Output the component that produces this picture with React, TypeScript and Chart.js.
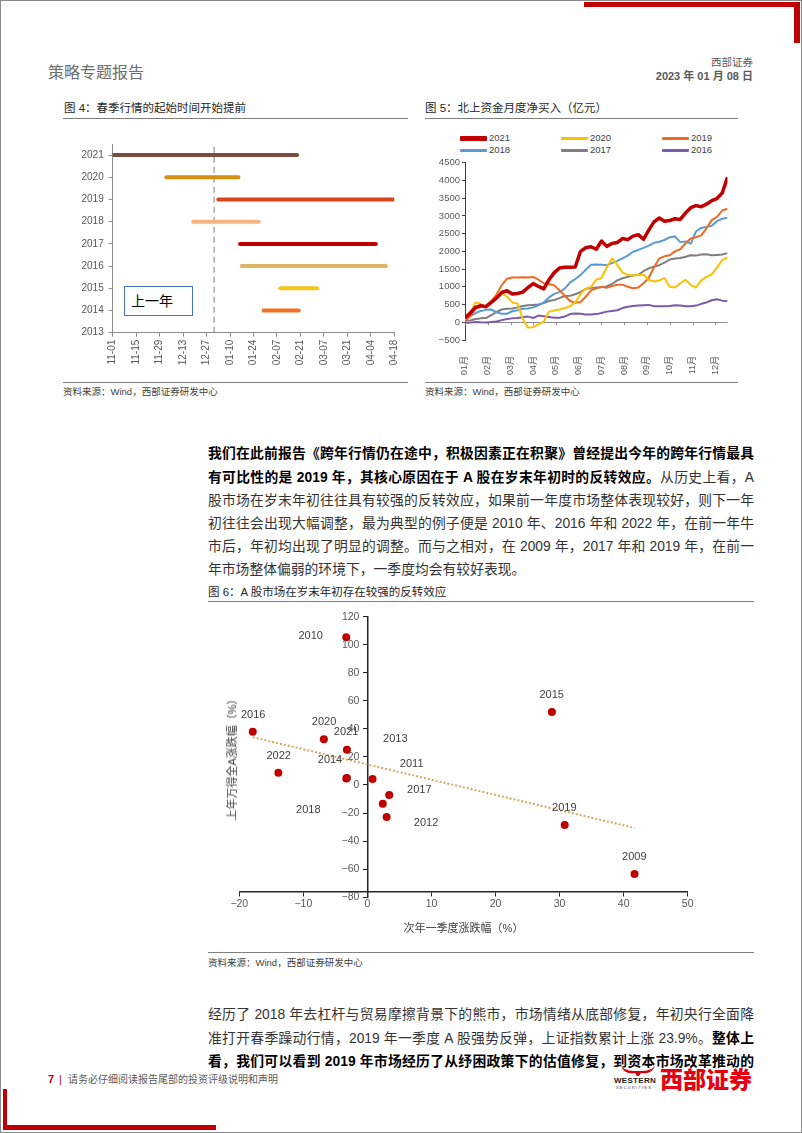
import React, { useEffect, useRef } from "react";
import { Chart, registerables } from "chart.js";

Chart.register(...registerables);

const LATIN = '"Liberation Sans", "Noto Sans CJK SC", sans-serif';
Chart.defaults.font.family = LATIN;

// ---------------- Figure 4: spring rally start/end (days since 11-01) ----------------
const rallyYears = [2021, 2020, 2019, 2018, 2017, 2016, 2015, 2014];
const rallyStartDay = [0, 32, 63, 48, 76, 77, 100, 90];
const rallyEndDay = [110, 75, 168, 87, 157, 163, 122, 111];
const dateTickLabels = ["11-01", "11-15", "11-29", "12-13", "12-27", "01-10", "01-24", "02-07", "02-21", "03-07", "03-21", "04-04", "04-18"];
const yearBoundaryDay = 60.5;

// ---------------- Figure 5: northbound cumulative net buy (weekly, 100m CNY) ----------------
const monthLabels = ["01月", "02月", "03月", "04月", "05月", "06月", "07月", "08月", "09月", "10月", "11月", "12月"];
const flowSeriesNames = ["2021", "2020", "2019", "2018", "2017", "2016"];
const flow2021 = [120, 260, 420, 470, 440, 560, 680, 840, 890, 800, 810, 850, 980, 1090, 1010, 940, 1200, 1400, 1530, 1550, 1550, 1560, 2000, 2100, 2130, 2060, 2290, 2140, 2220, 2250, 2360, 2330, 2430, 2470, 2340, 2600, 2830, 2940, 2850, 2870, 2920, 2900, 3080, 3230, 3290, 3260, 3330, 3430, 3490, 3650, 4090];
const flow2020 = [100, 250, 560, 520, 430, 560, 700, 820, 720, 560, 520, 100, -150, -140, -60, 20, 300, 330, 360, 400, 450, 560, 800, 950, 1000, 1200, 1250, 1550, 1800, 1620, 1400, 1340, 1320, 1330, 1340, 1200, 1150, 1180, 1250, 1000, 980, 1100, 1200, 1050, 980, 1180, 1280, 1350, 1550, 1750, 1830];
const flow2019 = [30, 170, 380, 430, 450, 590, 780, 1050, 1230, 1260, 1265, 1270, 1265, 1280, 1200, 1100, 1080, 1040, 900, 750, 600, 550, 570, 720, 900, 960, 1000, 970, 1020, 1060, 1060, 1000, 960, 980, 1100, 1250, 1550, 1800, 1860, 1890, 2000, 2060, 2220, 2360, 2400, 2450, 2650, 2880, 2970, 3150, 3200];
const flow2018 = [80, 170, 260, 320, 350, 360, 280, 240, 240, 310, 340, 380, 390, 420, 480, 560, 700, 800, 850, 950, 1120, 1220, 1330, 1480, 1620, 1630, 1620, 1610, 1670, 1730, 1800, 1880, 1990, 2040, 2100, 2160, 2240, 2270, 2320, 2400, 2420, 2260, 2280, 2220, 2560, 2660, 2690, 2720, 2850, 2920, 2950];
const flow2017 = [40, 50, 90, 110, 120, 200, 290, 360, 380, 390, 420, 460, 480, 490, 500, 540, 600, 630, 680, 740, 750, 790, 850, 940, 970, 980, 990, 1010, 1080, 1180, 1240, 1280, 1320, 1340, 1440, 1520, 1570, 1610, 1680, 1770, 1800, 1810, 1850, 1890, 1880, 1910, 1920, 1890, 1900, 1910, 1950];
const flow2016 = [-20, -10, 10, 0, -5, 10, 20, 60, 90, 110, 120, 140, 160, 120, 190, 170, 150, 130, 130, 160, 230, 250, 240, 220, 220, 230, 260, 300, 320, 340, 400, 440, 460, 470, 480, 490, 450, 450, 450, 460, 480, 470, 450, 450, 470, 520, 560, 620, 650, 610, 600];
const flowSeries = [flow2021, flow2020, flow2019, flow2018, flow2017, flow2016];
const weeksPerMonth = 52 / 12;

// ---------------- Figure 6: reversal effect scatter ----------------
const scatterYears = [2009, 2010, 2011, 2012, 2013, 2014, 2015, 2016, 2017, 2018, 2019, 2020, 2021, 2022];
const nextQ1Change = [41.7, -3.3, 0.8, 3.0, 3.4, -3.2, 28.8, -17.9, 2.4, -3.3, 30.8, -6.8, -3.2, -13.9];
const prevYearChange = [-63.5, 105.3, 4.3, -22.8, -7.1, 5.0, 52.0, 38.0, -13.3, 4.6, -28.5, 32.6, 25.2, 8.8];
const labelAnchorX = [41.67, -8.85, 6.91, 9.15, 4.36, -5.84, 28.77, -17.84, 8.1, -9.22, 30.74, -6.77, -3.34, -13.85];
const labelAnchorY = [-51.1, 106.2, 14.8, -27.3, 32.8, 17.8, 64.4, 50.1, -3.6, -17.8, -16.6, 44.7, 37.6, 20.9];
const scatterYTicks = [120, 100, 80, 60, 40, 20, 0, -20, -40, -60, -80];

// ---------------- styles ----------------
const rallyColors = ["#7A4E3F", "#D4900E", "#D9441A", "#F5B482", "#C00000", "#E0B265", "#F5C518", "#F2711C"];
const flowColors = ["#C00000", "#FFC000", "#EE6A22", "#5B9BD5", "#7F7F7F", "#7B5BA6"];
const flowWidths = [3.5, 2, 2, 2, 2, 2];

const minusFix = (v: number) => String(v).replace("-", "\u2212");

function buildFig4(): any {
  const datasets: any[] = rallyYears.map((yr, i) => ({
    data: [
      { x: rallyStartDay[i], y: yr },
      { x: rallyEndDay[i], y: yr },
    ],
    showLine: true,
    borderColor: rallyColors[i],
    backgroundColor: rallyColors[i],
    borderWidth: 4,
    borderCapStyle: "round",
    pointRadius: 0,
  }));
  datasets.push({
    data: [
      { x: yearBoundaryDay, y: 2013 },
      { x: yearBoundaryDay, y: 2021.5 },
    ],
    showLine: true,
    borderColor: "#9a9a9a",
    borderWidth: 1.3,
    borderDash: [6, 4],
    pointRadius: 0,
  });
  return {
    type: "scatter",
    data: { datasets },
    options: {
      responsive: false,
      animation: false,
      events: [],
      layout: { padding: { top: 10.3, right: 15.7, left: 0, bottom: 0 } },
      plugins: { legend: { display: false }, tooltip: { enabled: false } },
      scales: {
        x: {
          type: "linear",
          min: 0,
          max: 168,
          ticks: {
            stepSize: 14,
            autoSkip: false,
            maxRotation: 90,
            minRotation: 90,
            padding: 3,
            color: "#595959",
            font: { size: 10 },
            callback: (v: number) => dateTickLabels[Math.round(v / 14)] ?? "",
          },
          grid: { drawOnChartArea: false, tickLength: 4, color: "#8c8c8c" },
          border: { color: "#8c8c8c" },
          afterFit: (s: any) => {
            s.height = 40.3;
          },
        },
        y: {
          type: "linear",
          min: 2013,
          max: 2021.5,
          ticks: {
            stepSize: 1,
            includeBounds: false,
            padding: 5,
            color: "#595959",
            font: { size: 10 },
            callback: (v: number) => String(v),
          },
          grid: { drawOnChartArea: false, tickLength: 4, color: "#8c8c8c" },
          border: { color: "#8c8c8c" },
          afterFit: (s: any) => {
            s.width = 50.7;
          },
        },
      },
    },
  };
}

const monthTickPlugin = {
  id: "monthTicks",
  beforeDatasetsDraw(chart: any) {
    const { ctx, scales } = chart;
    const x = scales.x;
    const y0 = scales.y.getPixelForValue(0);
    ctx.save();
    ctx.strokeStyle = "#8c8c8c";
    ctx.lineWidth = 1;
    x.ticks.forEach((t: any) => {
      const px = Math.round(x.getPixelForValue(t.value)) + 0.5;
      ctx.beginPath();
      ctx.moveTo(px, y0);
      ctx.lineTo(px, y0 + 3);
      ctx.stroke();
    });
    ctx.restore();
  },
};

function buildFig5(): any {
  return {
    type: "line",
    data: {
      datasets: flowSeries.map((vals, k) => ({
        label: flowSeriesNames[k],
        data: vals.map((v, i) => ({ x: i / weeksPerMonth, y: v })),
        borderColor: flowColors[k],
        backgroundColor: flowColors[k],
        borderWidth: flowWidths[k],
        borderJoinStyle: "round",
        pointRadius: 0,
        tension: 0,
      })),
    },
    plugins: [monthTickPlugin],
    options: {
      responsive: false,
      animation: false,
      events: [],
      layout: { padding: { top: 6.7, right: 7.5, left: 0, bottom: 0 } },
      plugins: { legend: { display: false }, tooltip: { enabled: false } },
      scales: {
        x: {
          type: "linear",
          min: 0,
          max: 50 / weeksPerMonth,
          ticks: {
            stepSize: 1,
            includeBounds: false,
            autoSkip: false,
            maxRotation: 90,
            minRotation: 90,
            padding: 8,
            color: "#595959",
            font: { size: 9 },
            callback: (v: number) => monthLabels[Math.round(v)] ?? "",
          },
          grid: { display: false },
          border: { display: false },
          afterFit: (s: any) => {
            s.height = 35;
          },
        },
        y: {
          type: "linear",
          min: -500,
          max: 4500,
          ticks: {
            stepSize: 500,
            padding: 2,
            color: "#595959",
            font: { size: 9.5 },
            callback: (v: number) => minusFix(v),
          },
          grid: {
            drawOnChartArea: true,
            color: (c: any) => (c.tick && c.tick.value === 0 ? "#8c8c8c" : "rgba(0,0,0,0)"),
            tickColor: "#404040",
            tickLength: 3,
          },
          border: { color: "#404040" },
          afterFit: (s: any) => {
            s.width = 45;
          },
        },
      },
    },
  };
}

// draws data labels and the left-hand y tick labels next to the axis crossing at x = 0
const scatterTextPlugin = {
  id: "scatterText",
  afterDatasetsDraw(chart: any) {
    const { ctx, scales } = chart;
    ctx.save();
    ctx.font = `11px ${LATIN}`;
    ctx.fillStyle = "#404040";
    ctx.textAlign = "center";
    ctx.textBaseline = "middle";
    scatterYears.forEach((yr, i) => {
      ctx.fillText(String(yr), scales.x.getPixelForValue(labelAnchorX[i]), scales.y.getPixelForValue(labelAnchorY[i]));
    });
    ctx.font = `10.5px ${LATIN}`;
    ctx.fillStyle = "#595959";
    ctx.textAlign = "right";
    const axisX = scales.x.getPixelForValue(0);
    scatterYTicks.forEach((v) => {
      ctx.fillText(minusFix(v), axisX - 8, scales.y.getPixelForValue(v));
    });
    ctx.restore();
  },
};

function buildFig6(): any {
  const n = nextQ1Change.length;
  const mx = nextQ1Change.reduce((a, b) => a + b, 0) / n;
  const my = prevYearChange.reduce((a, b) => a + b, 0) / n;
  let sxy = 0;
  let sxx = 0;
  for (let i = 0; i < n; i++) {
    sxy += (nextQ1Change[i] - mx) * (prevYearChange[i] - my);
    sxx += (nextQ1Change[i] - mx) ** 2;
  }
  const slope = sxy / sxx;
  const icpt = my - slope * mx;
  const x0 = Math.min(...nextQ1Change);
  const x1 = Math.max(...nextQ1Change);
  return {
    type: "scatter",
    data: {
      datasets: [
        {
          data: nextQ1Change.map((x, i) => ({ x, y: prevYearChange[i] })),
          backgroundColor: "#C00000",
          borderColor: "#C00000",
          pointRadius: 4,
          borderWidth: 0,
        },
        {
          data: [
            { x: x0, y: icpt + slope * x0 },
            { x: x1, y: icpt + slope * x1 },
          ],
          showLine: true,
          borderColor: "#D2A862",
          borderWidth: 2,
          borderDash: [2, 2],
          pointRadius: 0,
        },
      ],
    },
    plugins: [scatterTextPlugin],
    options: {
      responsive: false,
      animation: false,
      events: [],
      layout: { padding: { top: 11.7, right: 12.3, left: 31.3, bottom: 27.8 } },
      plugins: { legend: { display: false }, tooltip: { enabled: false } },
      scales: {
        x: {
          type: "linear",
          min: -20,
          max: 50,
          position: { y: -76 },
          ticks: {
            stepSize: 10,
            padding: 2,
            color: "#595959",
            font: { size: 10.5 },
            callback: (v: number) => minusFix(v),
          },
          grid: { drawOnChartArea: false, tickLength: 4, color: "#262626" },
          border: { color: "#262626", width: 1.5 },
          afterFit: (s: any) => {
            s.height = 0;
          },
        },
        y: {
          type: "linear",
          min: -80,
          max: 120,
          position: { x: 0 },
          ticks: {
            stepSize: 20,
            autoSkip: false,
            display: false,
          },
          grid: { drawOnChartArea: false, tickLength: 4, color: "#262626" },
          border: { color: "#262626", width: 1.5 },
          afterFit: (s: any) => {
            s.width = 0;
          },
        },
      },
    },
  };
}

function ChartBox(props: { left: number; top: number; width: number; height: number; build: () => any }) {
  const ref = useRef<HTMLCanvasElement>(null);
  useEffect(() => {
    const chart = new Chart(ref.current as HTMLCanvasElement, props.build());
    return () => chart.destroy();
  }, []);
  return (
    <canvas
      ref={ref}
      width={props.width}
      height={props.height}
      style={{ position: "absolute", left: props.left, top: props.top, width: props.width, height: props.height }}
    />
  );
}

type Seg = [string, boolean];
const para1Lines: Seg[][] = [
  [["我们在此前报告《跨年行情仍在途中，积极因素正在积聚》曾经提出今年的跨年行情最具", true]],
  [["有可比性的是 2019 年，其核心原因在于 A 股在岁末年初时的反转效应。", true], ["从历史上看，A", false]],
  [["股市场在岁末年初往往具有较强的反转效应，如果前一年度市场整体表现较好，则下一年", false]],
  [["初往往会出现大幅调整，最为典型的例子便是 2010 年、2016 年和 2022 年，在前一年牛", false]],
  [["市后，年初均出现了明显的调整。而与之相对，在 2009 年，2017 年和 2019 年，在前一", false]],
  [["年市场整体偏弱的环境下，一季度均会有较好表现。", false]],
];
const para2Lines: Seg[][] = [
  [["经历了 2018 年去杠杆与贸易摩擦背景下的熊市，市场情绪从底部修复，年初央行全面降", false]],
  [["准打开春季躁动行情，2019 年一季度 A 股强势反弹，上证指数累计上涨 23.9%。", false], ["整体上", true]],
  [["看，我们可以看到 2019 年市场经历了从纾困政策下的估值修复，到资本市场改革推动的", true]],
];

function Paragraph(props: { top: number; lines: Seg[][]; lastJustified: boolean }) {
  return (
    <div style={{ position: "absolute", left: 208, top: props.top, width: 546, fontFamily: LATIN, fontSize: 13.8 }}>
      {props.lines.map((line, li) => {
        const justify = li < props.lines.length - 1 || props.lastJustified;
        return (
          <div
            key={li}
            style={{
              height: 23.2,
              lineHeight: "23.2px",
              textAlign: justify ? "justify" : "left",
              textAlignLast: justify ? "justify" : "left",
              color: "#333",
            } as any}
          >
            {line.map((s, si) => (
              <span key={si} style={{ fontWeight: s[1] ? 700 : 400, color: s[1] ? "#000" : "#333" }}>
                {s[0]}
              </span>
            ))}
          </div>
        );
      })}
    </div>
  );
}

function Abs(props: { l: number; t: number; style?: any; children?: any }) {
  return <div style={{ position: "absolute", left: props.l, top: props.t, ...props.style }}>{props.children}</div>;
}

const legendColX = [460, 561, 662];
const legendRowY = [138.3, 150];

export default function App() {
  const titleStyle = { fontFamily: LATIN, fontSize: 11.5, color: "#262626", lineHeight: "14px", whiteSpace: "nowrap" };
  const srcStyle = { fontFamily: LATIN, fontSize: 9.5, color: "#404040", lineHeight: "12px", whiteSpace: "nowrap" };
  return (
    <div
      style={{
        position: "absolute",
        left: 0,
        top: 0,
        width: 802,
        height: 1133,
        background: "#fff",
        overflow: "hidden",
        fontFamily: LATIN,
      }}
    >
      {/* page border */}
      <div style={{ position: "absolute", left: 0, top: 0, width: 802, height: 1133, boxSizing: "border-box", border: "1px solid #8a8a8a" }} />
      {/* red corner marks */}
      <Abs l={584} t={2} style={{ width: 216, height: 5, background: "#C00000" }} />
      <Abs l={794} t={2} style={{ width: 6, height: 41, background: "#C00000" }} />
      <Abs l={3} t={1089} style={{ width: 4, height: 41, background: "#C00000" }} />
      <Abs l={3} t={1125} style={{ width: 213, height: 5, background: "#C00000" }} />

      {/* header */}
      <Abs l={48} t={62} style={{ fontSize: 16, color: "#6e6e6e", lineHeight: "22px", letterSpacing: 0 }}>策略专题报告</Abs>
      <Abs l={600} t={54.5} style={{ width: 153, textAlign: "right", fontSize: 10.5, color: "#595959", lineHeight: "14px" }}>西部证券</Abs>
      <Abs l={600} t={69} style={{ width: 153, textAlign: "right", fontSize: 11, fontWeight: 700, color: "#595959", lineHeight: "14px" }}>2023 年 01 月 08 日</Abs>

      {/* Figure 4 */}
      <Abs l={64} t={101.3} style={titleStyle}>图 4：春季行情的起始时间开始提前</Abs>
      <Abs l={63} t={118} style={{ width: 345, height: 1, background: "#7f7f7f" }} />
      <ChartBox left={62} top={133} width={348} height={240} build={buildFig4} />
      <Abs l={124.3} t={285.7} style={{ width: 69, height: 30, boxSizing: "border-box", border: "1.5px solid #4472C4", background: "#fff" }} />
      <Abs l={131} t={292} style={{ fontSize: 14, color: "#000", lineHeight: "18px" }}>上一年</Abs>
      <Abs l={63} t={381.5} style={{ width: 345, height: 1, background: "#7f7f7f" }} />
      <Abs l={63} t={385.5} style={srcStyle}>资料来源：Wind，西部证券研发中心</Abs>

      {/* Figure 5 */}
      <Abs l={425} t={101.3} style={titleStyle}>图 5：北上资金月度净买入（亿元）</Abs>
      <Abs l={425} t={118} style={{ width: 313, height: 1, background: "#7f7f7f" }} />
      {flowSeriesNames.map((name, k) => {
        const x = legendColX[k % 3];
        const y = legendRowY[Math.floor(k / 3)];
        return (
          <React.Fragment key={name}>
            <Abs l={x} t={y - flowWidths[k] / 2 - 0.5} style={{ width: 27, height: flowWidths[k] + 1, background: flowColors[k], borderRadius: 1 }} />
            <Abs l={x + 29} t={y - 6} style={{ fontSize: 9.5, color: "#404040", lineHeight: "12px" }}>{name}</Abs>
          </React.Fragment>
        );
      })}
      <ChartBox left={420} top={155} width={315} height={220} build={buildFig5} />
      <Abs l={425} t={381.5} style={{ width: 313, height: 1, background: "#7f7f7f" }} />
      <Abs l={425} t={385.5} style={srcStyle}>资料来源：Wind，西部证券研发中心</Abs>

      {/* body paragraph 1 */}
      <Paragraph top={442.4} lines={para1Lines} lastJustified={false} />

      {/* Figure 6 */}
      <Abs l={208} t={584.7} style={titleStyle}>图 6：A 股市场在岁末年初存在较强的反转效应</Abs>
      <Abs l={208} t={601} style={{ width: 546, height: 1, background: "#7f7f7f" }} />
      <ChartBox left={208} top={605} width={492} height={320} build={buildFig6} />
      <Abs l={231.5} t={757} style={{ transform: "translate(-50%, -50%) rotate(-90deg)", fontSize: 11, color: "#404040", whiteSpace: "nowrap", lineHeight: "14px" }}>上年万得全A涨跌幅（%）</Abs>
      <Abs l={463.5} t={928} style={{ transform: "translate(-50%, -50%)", fontSize: 11, color: "#404040", whiteSpace: "nowrap", lineHeight: "14px" }}>次年一季度涨跌幅（%）</Abs>
      <Abs l={208} t={952} style={{ width: 546, height: 1, background: "#7f7f7f" }} />
      <Abs l={208} t={956.5} style={srcStyle}>资料来源：Wind，西部证券研发中心</Abs>

      {/* body paragraph 2 */}
      <Paragraph top={1003.4} lines={para2Lines} lastJustified={true} />

      {/* footer */}
      <Abs l={48} t={1072} style={{ fontSize: 11, fontWeight: 700, color: "#C00000", lineHeight: "14px" }}>7</Abs>
      <Abs l={59} t={1072} style={{ fontSize: 10.5, color: "#C00000", lineHeight: "14px" }}>|</Abs>
      <Abs l={68} t={1072.5} style={{ fontSize: 10, color: "#595959", lineHeight: "13px", whiteSpace: "nowrap" }}>请务必仔细阅读报告尾部的投资评级说明和声明</Abs>

      {/* logo */}
      <svg style={{ position: "absolute", left: 620, top: 1065 }} width="36" height="12" viewBox="0 0 36 12">
        <path d="M1 1 C4 8, 10 9, 15 8 L17 11 L19 11 L21 8 C26 9, 32 8, 35 1 C30 6, 24 6, 18 6 C12 6, 6 6, 1 1 Z" fill="#D7000F" />
      </svg>
      <Abs l={614} t={1076} style={{ fontSize: 8, fontWeight: 700, color: "#222", lineHeight: "9px", letterSpacing: 0.3 }}>WESTERN</Abs>
      <Abs l={616} t={1085} style={{ fontSize: 4, color: "#444", lineHeight: "5px", letterSpacing: 1.2 }}>SECURITIES</Abs>
      <Abs l={660} t={1065} style={{ fontSize: 23, fontWeight: 900, color: "#E60012", lineHeight: "26px", fontFamily: '"Noto Sans CJK SC", sans-serif' }}>西部证券</Abs>
    </div>
  );
}
